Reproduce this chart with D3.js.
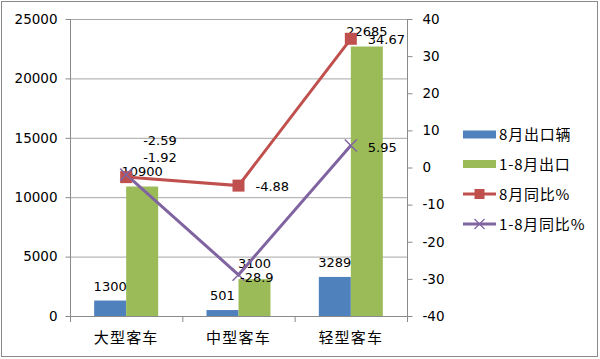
<!DOCTYPE html>
<html><head><meta charset="utf-8">
<script src="https://cdn.jsdelivr.net/npm/d3@7"></script>
<style>
body{margin:0;background:#fff;}
text{font-family:"DejaVu Sans",sans-serif;}
.cjk{font-family:"Noto Sans CJK SC",sans-serif;}
</style></head>
<body><svg id="c" width="600" height="359"></svg>
<script>
const categories = ["大型客车","中型客车","轻型客车"];
const augExport = [1300, 501, 3289];
const ytdExport = [10900, 3100, 22685];
const augYoY = [-2.59, -4.88, 34.67];
const ytdYoY = [-1.92, -28.9, 5.95];
const seriesNames = ["8月出口辆","1-8月出口","8月同比%","1-8月同比%"];
const leftTicks = [0,5000,10000,15000,20000,25000];
const rightTicks = [-40,-30,-20,-10,0,10,20,30,40];

const colors = {blue:"#4f81bd", green:"#9bbb59", red:"#c0504d", purple:"#8064a2"};
const svg = d3.select("#c");
const L=70, R=407, T=19, B=316;

svg.append("rect").attr("x",1.5).attr("y",1.5).attr("width",596).attr("height",355)
  .attr("fill","#fff").attr("stroke","#8a8a8a").attr("stroke-width",1);

const x = d3.scaleBand().domain(categories).range([L,R]);
const yL = d3.scaleLinear().domain([0,25000]).range([B,T]);
const yR = d3.scaleLinear().domain([-40,40]).range([B,T]);

// gridlines
svg.append("g").selectAll("line").data(leftTicks).join("line")
  .attr("x1",L).attr("x2",R).attr("y1",d=>yL(d)+0.5).attr("y2",d=>yL(d)+0.5)
  .attr("stroke","#a6a6a6").attr("stroke-width",1);

// axes
const fmt = d=>String(d);
const gl = svg.append("g").attr("transform",`translate(${L+0.5},0)`)
  .call(d3.axisLeft(yL).tickValues(leftTicks).tickSize(5).tickPadding(8).tickFormat(fmt));
const gr = svg.append("g").attr("transform",`translate(${R+0.5},0)`)
  .call(d3.axisRight(yR).tickValues(rightTicks).tickSize(5).tickPadding(10).tickFormat(fmt));
[gl,gr].forEach(g=>{
  g.selectAll("path,line").attr("stroke","#8a8a8a");
  g.selectAll("text").attr("font-size",13.5).attr("fill","#000").attr("font-family","DejaVu Sans");
});
gl.select(".domain").attr("d",`M0,${T}V${B}`);
gr.select(".domain").attr("d",`M0,${T}V${B}`);

// bottom axis
svg.append("line").attr("x1",L).attr("x2",R).attr("y1",B+0.5).attr("y2",B+0.5).attr("stroke","#8a8a8a");
const bounds = categories.map(c=>x(c)).concat([R]);
svg.append("g").selectAll("line").data(bounds).join("line")
  .attr("x1",d=>d+0.5).attr("x2",d=>d+0.5).attr("y1",B).attr("y2",B+6).attr("stroke","#8a8a8a");
svg.append("g").selectAll("text").data(categories).join("text")
  .attr("class","cjk").attr("x",d=>x(d)+x.bandwidth()/2).attr("y",343)
  .attr("text-anchor","middle").attr("font-size",15).attr("letter-spacing",1.2).text(d=>d);

// bars
const bw = 32;
const cx = c=>x(c)+x.bandwidth()/2;
svg.append("g").selectAll("rect").data(categories).join("rect")
  .attr("x",d=>cx(d)-bw).attr("width",bw)
  .attr("y",(d,i)=>yL(augExport[i])).attr("height",(d,i)=>B-yL(augExport[i]))
  .attr("fill",colors.blue);
svg.append("g").selectAll("rect").data(categories).join("rect")
  .attr("x",d=>cx(d)).attr("width",bw)
  .attr("y",(d,i)=>yL(ytdExport[i])).attr("height",(d,i)=>B-yL(ytdExport[i]))
  .attr("fill",colors.green);

// bar labels
svg.append("g").selectAll("text").data(categories).join("text")
  .attr("x",d=>cx(d)-bw/2).attr("y",(d,i)=>yL(augExport[i])-10)
  .attr("text-anchor","middle").attr("font-size",13).text((d,i)=>augExport[i]);
svg.append("g").selectAll("text").data(categories).join("text")
  .attr("x",d=>cx(d)+bw/2).attr("y",(d,i)=>yL(ytdExport[i])-11)
  .attr("text-anchor","middle").attr("font-size",13).text((d,i)=>ytdExport[i]);

// lines
const line = vals => d3.line().x((d,i)=>cx(categories[i])).y(d=>yR(d))(vals);
svg.append("path").attr("d",line(augYoY)).attr("fill","none").attr("stroke",colors.red).attr("stroke-width",3);
svg.append("path").attr("d",line(ytdYoY)).attr("fill","none").attr("stroke",colors.purple).attr("stroke-width",3);
const ms=12;
svg.append("g").selectAll("rect").data(augYoY).join("rect")
  .attr("x",(d,i)=>cx(categories[i])-ms/2).attr("y",d=>yR(d)-ms/2)
  .attr("width",ms).attr("height",ms).attr("fill",colors.red);
const xs=6;
svg.append("g").selectAll("path").data(ytdYoY).join("path")
  .attr("d",(d,i)=>{const px=cx(categories[i]), py=yR(d);
     return `M${px-xs},${py-xs}L${px+xs},${py+xs}M${px-xs},${py+xs}L${px+xs},${py-xs}`;})
  .attr("stroke",colors.purple).attr("stroke-width",1.5);

// line labels (right of point, some moved by hand in the original)
const redAdj = [[0,-37],[0,0],[0,0]];
const purAdj = [[0,-17.5],[-15.5,2],[0,1.5]];
svg.append("g").selectAll("text").data(augYoY).join("text")
  .attr("x",(d,i)=>cx(categories[i])+17+redAdj[i][0]).attr("y",(d,i)=>yR(d)+5+redAdj[i][1])
  .attr("font-size",13).text(d=>d);
svg.append("g").selectAll("text").data(ytdYoY).join("text")
  .attr("x",(d,i)=>cx(categories[i])+17+purAdj[i][0]).attr("y",(d,i)=>yR(d)+5+purAdj[i][1])
  .attr("font-size",13).text(d=>d);

// legend
const lg = svg.append("g");
const ly = [134.5,164,194,224];
const sx=463, sw=33;
lg.append("rect").attr("x",sx).attr("y",ly[0]-4).attr("width",sw).attr("height",8).attr("fill",colors.blue);
lg.append("rect").attr("x",sx).attr("y",ly[1]-4).attr("width",sw).attr("height",8).attr("fill",colors.green);
lg.append("line").attr("x1",sx).attr("x2",sx+sw).attr("y1",ly[2]).attr("y2",ly[2]).attr("stroke",colors.red).attr("stroke-width",3);
lg.append("rect").attr("x",sx+sw/2-5).attr("y",ly[2]-5).attr("width",10).attr("height",10).attr("fill",colors.red);
lg.append("line").attr("x1",sx).attr("x2",sx+sw).attr("y1",ly[3]).attr("y2",ly[3]).attr("stroke",colors.purple).attr("stroke-width",3);
lg.append("path").attr("d",`M${sx+sw/2-5},${ly[3]-5}L${sx+sw/2+5},${ly[3]+5}M${sx+sw/2-5},${ly[3]+5}L${sx+sw/2+5},${ly[3]-5}`)
  .attr("stroke",colors.purple).attr("stroke-width",1.2);
lg.selectAll("text").data(seriesNames).join("text")
  .attr("class","cjk").attr("x",499).attr("y",(d,i)=>ly[i]+5.5)
  .attr("font-size",15).attr("letter-spacing",0.8).text(d=>d);
</script></body></html>
